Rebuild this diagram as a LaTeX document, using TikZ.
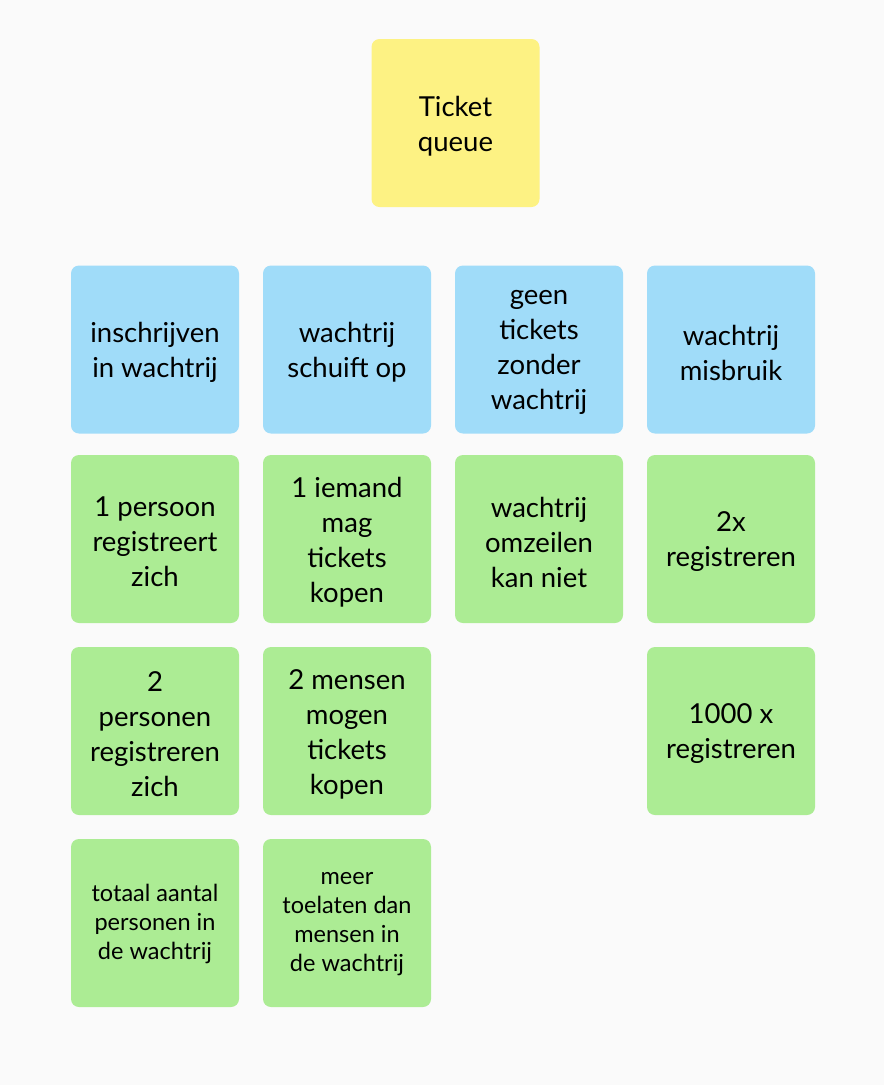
\documentclass[tikz,border=0pt]{standalone}
\usepackage{fontspec}
\setmainfont{Lato}
\definecolor{bgc}{HTML}{FAFAFA}
\definecolor{yel}{HTML}{FDF283}
\definecolor{blu}{HTML}{A0DCF9}
\definecolor{grn}{HTML}{ACEC94}
\tikzset{
  sticky/.style={minimum width=168pt, minimum height=168pt, rounded corners=8pt, inner sep=0pt},
  bigtext/.style={align=center, text=black, inner sep=0pt, font=\fontsize{27.5}{35}\selectfont, yshift=-3pt},
  smalltext/.style={align=center, text=black, inner sep=0pt, font=\fontsize{23.5}{29}\selectfont, yshift=-1pt},
  big/.style={label={[bigtext]center:{#1}}},
  small/.style={label={[smalltext]center:{#1}}},
}
\begin{document}
\begin{tikzpicture}[x=1pt,y=-1pt]
\fill[bgc] (0,0) rectangle (884,1085);
\useasboundingbox (0,0) rectangle (884,1085);
\node[sticky, fill=yel, big={Ticket\\queue}] (tq) at (455.5,123) {};
% row 1 (blue)
\node[sticky, fill=blu, big={inschrijven\\in wachtrij}] (b1) at (155,349.5) {};
\node[sticky, fill=blu, big={wachtrij\\schuift op}] (b2) at (347,349.5) {};
\node[sticky, fill=blu, big={geen\\tickets\\zonder\\wachtrij}] (b3) at (539,349.5) {};
\node[sticky, fill=blu, big={wachtrij\\misbruik}] (b4) at (731,349.5) {};
% row 2
\node[sticky, fill=grn, big={1 persoon\\registreert\\zich}] (g11) at (155,539) {};
\node[sticky, fill=grn, big={1 iemand\\mag\\tickets\\kopen}] (g21) at (347,539) {};
\node[sticky, fill=grn, big={wachtrij\\omzeilen\\kan niet}] (g31) at (539,539) {};
\node[sticky, fill=grn, big={2x\\registreren}] (g41) at (731,539) {};
% row 3
\node[sticky, fill=grn, big={2\\personen\\registreren\\zich}] (g12) at (155,731) {};
\node[sticky, fill=grn, big={2 mensen\\mogen\\tickets\\kopen}] (g22) at (347,731) {};
\node[sticky, fill=grn, big={1000 x\\registreren}] (g42) at (731,731) {};
% row 4
\node[sticky, fill=grn, small={totaal aantal\\personen in\\de wachtrij}] (g13) at (155,923) {};
\node[sticky, fill=grn, small={meer\\toelaten dan\\mensen in\\de wachtrij}] (g23) at (347,923) {};
\end{tikzpicture}
\end{document}
